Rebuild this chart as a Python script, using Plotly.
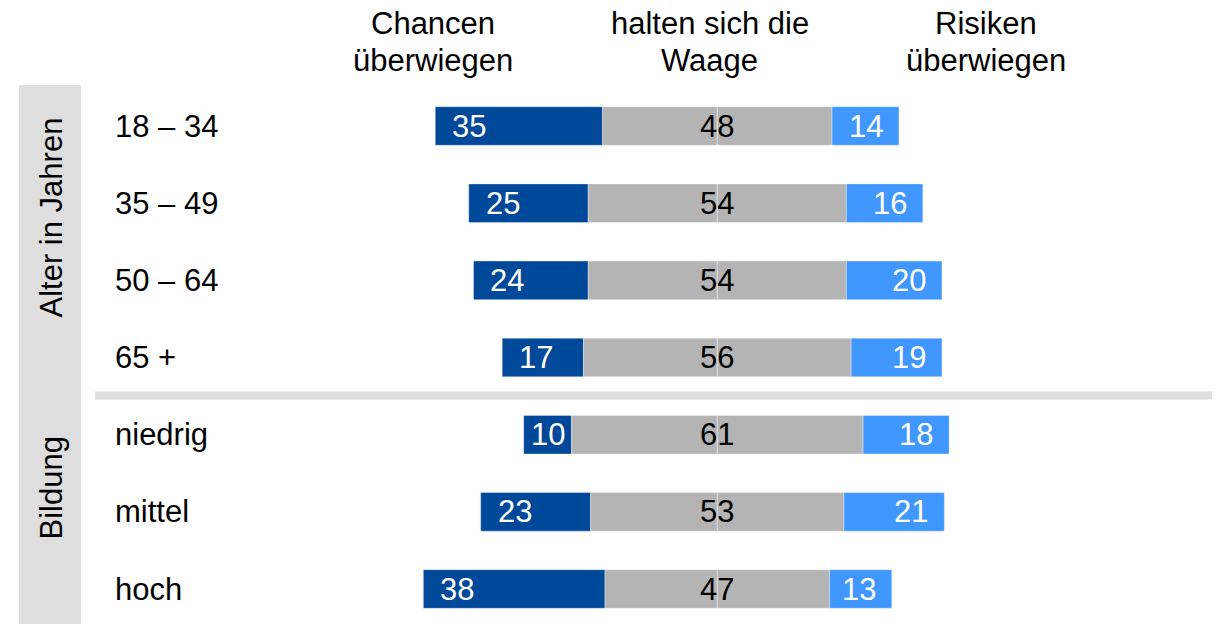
import plotly.graph_objects as go

# ---- data ----
categories = ["18 – 34", "35 – 49", "50 – 64", "65 +", "niedrig", "mittel", "hoch"]
chancen = [35, 25, 24, 17, 10, 23, 38]
waage = [48, 54, 54, 56, 61, 53, 47]
risiken = [14, 16, 20, 19, 18, 21, 13]
headers = [("Chancen", "überwiegen"), ("halten sich die", "Waage"), ("Risiken", "überwiegen")]
group_labels = ["Alter in Jahren", "Bildung"]

# ---- styling / geometry ----
W, H = 1222, 624
FONT = "Arial, 'Liberation Sans', sans-serif"
FS = 31
C_DARK = "#00489a"
C_GRAY = "#b4b4b4"
C_LIGHT = "#3f97ff"
BOX = "#dedede"

X0_PX = 717.3      # pixel of value 0
PX_PER_UNIT = 4.78
Y0_PX = 126.0      # pixel of first row centre
ROW_PX = 77.17

x_range = [-X0_PX / PX_PER_UNIT, (W - X0_PX) / PX_PER_UNIT]
y_range = [(H - Y0_PX) / ROW_PX, -Y0_PX / ROW_PX]

def px(x):
    return x / W

def py(y):
    return 1 - y / H

rows = list(range(len(categories)))
half = [g / 2 for g in waage]
dark_base = [-h - c for h, c in zip(half, chancen)]

edge = dict(color="rgba(255,255,255,0.35)", width=1)
fig = go.Figure()
fig.add_trace(go.Bar(y=rows, x=chancen, base=dark_base, orientation="h", width=0.5,
                     marker=dict(color=C_DARK, line=edge), hoverinfo="skip"))
fig.add_trace(go.Bar(y=rows, x=half, base=[-h for h in half], orientation="h", width=0.5,
                     marker=dict(color=C_GRAY, line=edge), hoverinfo="skip"))
fig.add_trace(go.Bar(y=rows, x=half, base=[0] * len(rows), orientation="h", width=0.5,
                     marker=dict(color=C_GRAY, line=edge), hoverinfo="skip"))
fig.add_trace(go.Bar(y=rows, x=risiken, base=half, orientation="h", width=0.5,
                     marker=dict(color=C_LIGHT, line=edge), hoverinfo="skip"))

ann = []
off = 33 / PX_PER_UNIT
for i in rows:
    left = dark_base[i]
    right_dark = -half[i]
    xd = min(left + off + 0.2, right_dark - 5)
    ann.append(dict(x=xd, y=i, xref="x", yref="y", text=str(chancen[i]), showarrow=False,
                    font=dict(color="white", size=FS, family=FONT), xanchor="center", yanchor="middle"))
    ann.append(dict(x=0, y=i, xref="x", yref="y", text=str(waage[i]), showarrow=False,
                    font=dict(color="black", size=FS, family=FONT), xanchor="center", yanchor="middle"))
    xr = max(half[i] + risiken[i] - off, half[i] + 5)
    ann.append(dict(x=xr, y=i, xref="x", yref="y", text=str(risiken[i]), showarrow=False,
                    font=dict(color="white", size=FS, family=FONT), xanchor="center", yanchor="middle"))
    ann.append(dict(x=px(112.5), y=i, xref="paper", yref="y", text=categories[i], showarrow=False,
                    font=dict(color="black", size=FS, family=FONT), xanchor="left", yanchor="middle"))

header_x = [433, 709.5, 986]
for (l1, l2), hx in zip(headers, header_x):
    ann.append(dict(x=px(hx), y=py(24), xref="paper", yref="paper", text=l1, showarrow=False,
                    font=dict(color="black", size=FS, family=FONT), xanchor="center", yanchor="middle"))
    ann.append(dict(x=px(hx), y=py(61), xref="paper", yref="paper", text=l2, showarrow=False,
                    font=dict(color="black", size=FS, family=FONT), xanchor="center", yanchor="middle"))

for lab, cy in zip(group_labels, [217.5, 488.5]):
    ann.append(dict(x=px(51), y=py(cy), xref="paper", yref="paper", text=lab, showarrow=False,
                    textangle=-90, font=dict(color="black", size=FS, family=FONT),
                    xanchor="center", yanchor="middle"))

shapes = [
    dict(type="rect", xref="paper", yref="paper", x0=px(19), x1=px(81), y0=py(85), y1=py(624),
         fillcolor=BOX, line=dict(width=0), layer="below"),
    dict(type="rect", xref="paper", yref="paper", x0=px(95), x1=px(1212), y0=py(391.5), y1=py(399.5),
         fillcolor=BOX, line=dict(width=0), layer="below"),
]

fig.update_layout(
    width=W, height=H, margin=dict(l=0, r=0, t=0, b=0),
    paper_bgcolor="white", plot_bgcolor="white",
    barmode="overlay", showlegend=False,
    xaxis=dict(range=x_range, visible=False, fixedrange=True),
    yaxis=dict(range=y_range, visible=False, fixedrange=True),
    annotations=ann, shapes=shapes,
)

fig.write_html("out.html", post_script="document.body.style.margin='0px';",
               config={"displayModeBar": False})
